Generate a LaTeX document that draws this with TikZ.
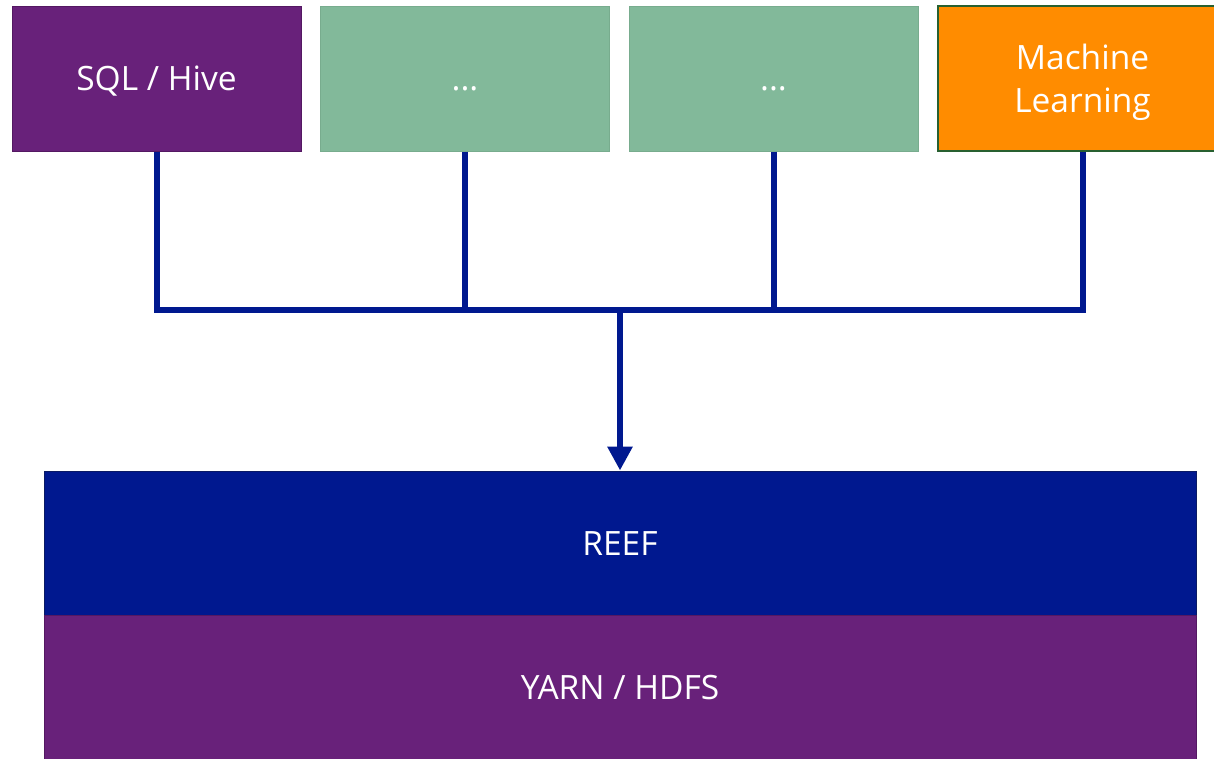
\documentclass[tikz,border=0pt]{standalone}
\usepackage{fontspec}
\setmainfont{Open Sans}
\usetikzlibrary{arrows.meta}
\usetikzlibrary{calc}

\definecolor{hivepurple}{RGB}{104,33,122}
\definecolor{hiveedge}{RGB}{84,24,98}
\definecolor{slotgreen}{RGB}{130,185,154}
\definecolor{slotedge}{RGB}{120,172,142}
\definecolor{mlorange}{RGB}{255,140,0}
\definecolor{mledge}{RGB}{40,96,48}
\definecolor{reefblue}{RGB}{0,24,143}
\definecolor{reefedge}{RGB}{10,26,100}

\tikzset{
	app/.style={rectangle, minimum width=289pt, minimum height=145pt, inner sep=0pt,
		line width=1pt, text=white, align=center, text depth=0pt,
		font=\fontsize{33.5}{43}\selectfont},
	oneline/.style={text height=24pt},
	layer/.style={rectangle, minimum width=1152pt, minimum height=144pt, inner sep=0pt,
		line width=1pt, text=white, text height=24pt, text depth=0pt,
		font=\fontsize{33.5}{40}\selectfont},
	link/.style={draw=reefblue, line width=6pt},
}

\begin{document}
\begin{tikzpicture}[x=1pt,y=-1pt]
	\useasboundingbox (0,0) rectangle (1214,758);

	\node[app, oneline, fill=hivepurple, draw=hiveedge] (sql) at (156.5,78.5) {SQL / Hive};
	\node[app, oneline, fill=slotgreen, draw=slotedge] (dotsa) at (465,78.5) {...};
	\node[app, oneline, fill=slotgreen, draw=slotedge] (dotsb) at (773.5,78.5) {...};
	\node[app, fill=mlorange, draw=mledge, line width=2pt] (ml) at (1082.5,78.5) {Machine\\Learning};

	\node[layer, fill=reefblue, draw=reefedge] (reef) at (620,543) {REEF};
	\node[layer, fill=hivepurple, draw=hiveedge] (yarn) at (620,687) {YARN / HDFS};

	\coordinate (hub) at (620,310);
	\path[link]
	(sql.south) |- (hub)
	(ml.south) |- (hub)
	(dotsa.south) -- (dotsa.south |- hub)
	(dotsb.south) -- (dotsb.south |- hub)
	;
	\draw[link, -{Triangle[length=24pt, width=24pt]}] (hub) -- (reef.north);
\end{tikzpicture}
\end{document}
